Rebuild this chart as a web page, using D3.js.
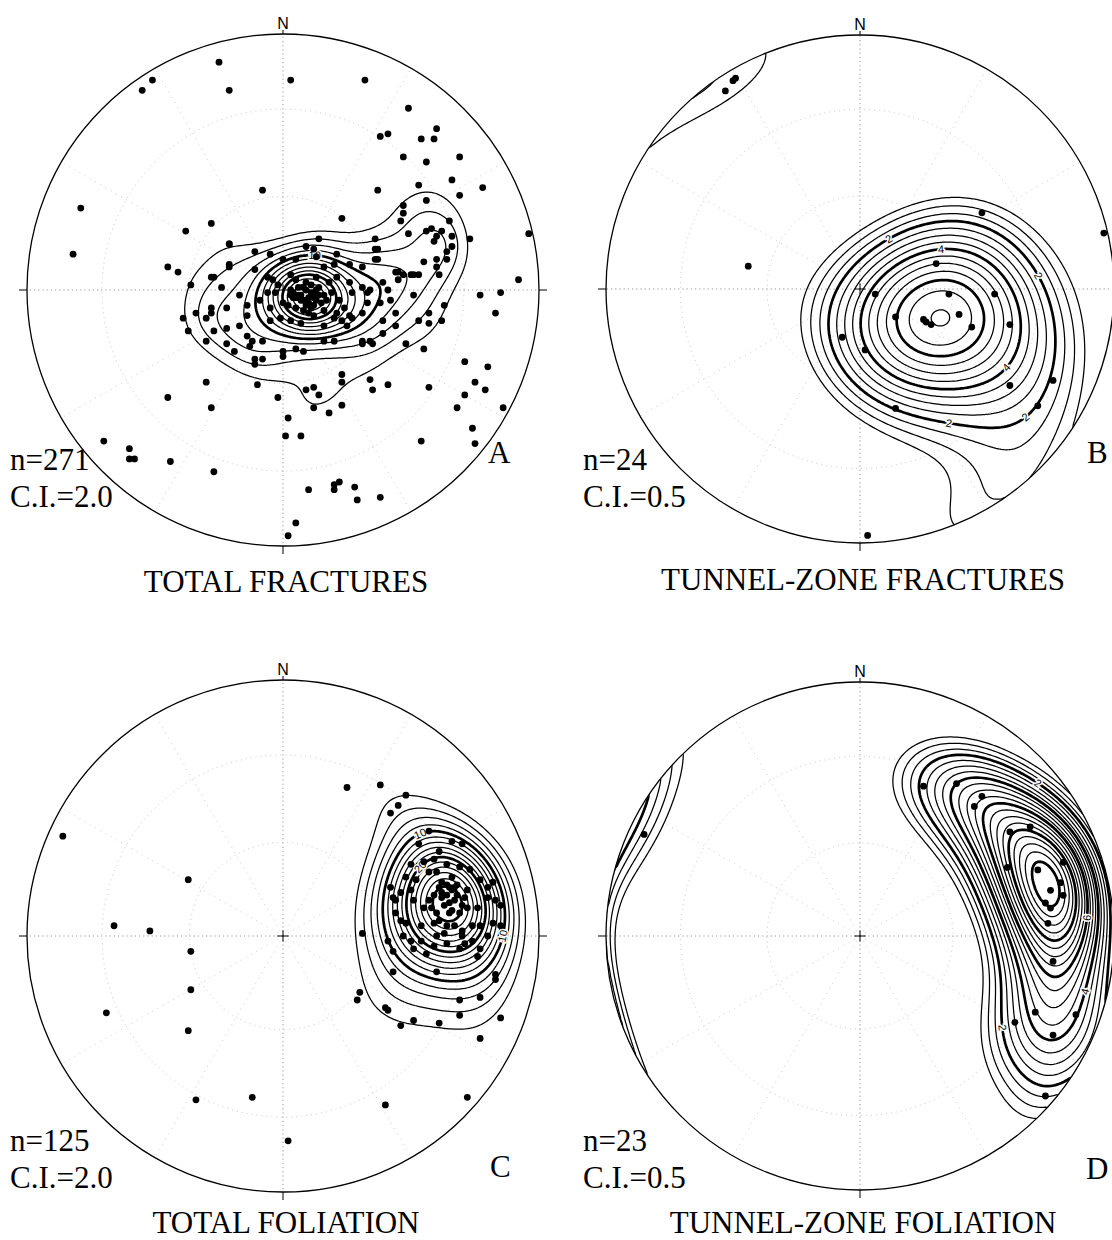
<!DOCTYPE html>
<html>
<head>
<meta charset="utf-8">
<script src="https://cdn.jsdelivr.net/npm/d3@7"></script>
<style>
  body { margin: 0; background: #fff; }
  svg { display: block; }
  .lbl { font-family: "Liberation Serif", "Times New Roman", serif; fill: #000; }
  .north { font-family: "Liberation Sans", Arial, sans-serif; fill: #000; }
  .clab { font-family: "Liberation Sans", Arial, sans-serif; fill: #000; stroke: #fff; stroke-width: 3px; paint-order: stroke; }
</style>
</head>
<body>
<svg id="chart" width="1112" height="1240"></svg>
<script>
// Poles plotted on an equal-area (Schmidt) net, lower hemisphere.
// Each pole is [east, north] in percent of the net radius.

const totalFractures = [
  [-25,89],[-51,82],[-55,78],[-21,78],[3,82],[32,82],[49,71],[60,63],[38,60],[41,61],[54,59],[59,59],
  [47,52],[56,50],[69,52],[37,39],[53,41],[66,43],[78,40],[69,37],[56,35],[47,33],[47,30],[46,27],
  [65,27],[49,22],[56,23],[58,24],[62,23],[60,21],[66,21],[66,17],[64,15],[64,12],[60,12],[60,9],
  [61,6],[73,20],[96,22],[92,4],[55,11],[36,20],[37,16],[37,12],[50,6],[53,6],[45,7],[23,28],
  [-8,39],[-28,26],[-38,23],[-79,32],[-82,14],[-45,9],[-41,7],[-21,18],[-27,5],[-21,10],[-36,2],
  [59,19],[51,-2],[63,-6],[57,-13],[62,-12],[53,-12],[55,-23],[48,-21],[71,-28],[57,-38],[71,-41],
  [68,-46],[41,-37],[34,-35],[35,-39],[23,-33],[23,-36],[12,-38],[9,-39],[14,-41],[12,-46],[23,-45],
  [18,-48],[-2,-42],[-10,-37],[-30,-36],[-45,-42],[-28,-46],[2,-50],[77,-2],[85,-1],[83,-9],[80,-30],
  [75,-36],[79,-39],[74,-54],[75,-60],[86,-46],[54,-59],[1,-57],[7,-57],[-70,-59],[-60,-62],[-60,-66],
  [-58,-66],[-44,-67],[-27,-71],[10,-78],[20,-76],[22,-75],[20,-78],[28,-77],[29,-82],[38,-81],[5,-91],
  [2,-96],[57,-9],
  [14,20],[9,17],[12,16],[13,13],[-11,15],[-5,14],[-21,18],[0,12],[5,12],[21,14],[26,10],[36,16],
  [36,12],[31,9],[20,10],[16,9],[-21,9],[-28,5],[-24,1],[-11,8],[-6,5],[-4,4],[-2,2],[3,6],[5,4],
  [9,3],[13,5],[18,3],[21,5],[26,3],[31,1],[34,0],[39,3],[44,7],[47,6],[51,6],[45,4],[-17,-2],
  [-14,-6],[-9,-4],[-6,-1],[-3,-1],[4,-1],[7,-2],[8,-4],[10,-3],[12,-1],[16,-2],[19,-1],[22,-4],
  [24,-7],[27,-1],[33,-1],[38,-5],[41,0],[33,-5],[-39,-11],[-34,-9],[-28,-7],[-28,-9],[-30,-11],
  [-22,-7],[-14,-10],[-5,-7],[0,-5],[5,-7],[11,-7],[16,-8],[21,-9],[26,-10],[31,-9],[39,-12],[42,-4],
  [44,-9],[-37,-16],[-30,-20],[-27,-16],[-22,-15],[-17,-14],[-14,-18],[-12,-20],[-8,-20],[-5,-12],
  [-1,-11],[3,-12],[7,-13],[12,-10],[16,-14],[20,-11],[23,-12],[25,-14],[27,-11],[31,-20],[34,-20],
  [39,-17],[44,-14],[-22,-21],[-19,-24],[-13,-22],[-8,-27],[0,-24],[0,-26],[5,-23],[8,-24],[16,-20],
  [20,-20],[31,-21],[35,-21],[-11,-27],[-11,-29],[5,-3],[13,-4],[3,0],[14,1],
  [6,-2],[9,0],[11,-1],[8,1],[12,-3],[10,-5],[7,-4],[14,-2],[4,-3],[9,-6],[13,0],[6,1],[15,-5],
  [3,-2],[11,2],[8,-8],[17,-4],[2,-6],[10,-9],[12,-6]
];

const tunnelFractures = [
  [96,22],[-44,9],[48,30],[30,10],[6,-2],[35,-2],[53,-2],[14,-11],[25,-12],[28,-14],[39,-10],
  [44,-15],[59,-14],[-7,-19],[2,-24],[59,-38],[76,-36],[70,-46],[14,-47],[3,-97],[-50,82],[-49,83],
  [-53,78],[26,-13]
];

const totalFoliation = [
  [-86,39],[-37,22],[-66,4],[-52,2],[-36,-6],[-36,-21],[-69,-30],[-37,-37],[-34,-64],[-12,-63],
  [2,-80],[40,-66],[72,-63],[25,58],[38,59],[31,1],[30,-22],[29,-25],[43,-14],[60,-14],[83,-15],
  [83,-17],[40,-28],[41,-29],[46,-35],[51,-33],[61,-34],[69,-25],[77,-24],[69,-31],[85,-32],[77,-40],
  [48,55],[45,51],[42,48],
  [57,41],[53,36],[66,37],[70,36],[61,33],[55,29],[50,28],[59,30],[64,28],[69,27],[73,26],[77,22],
  [82,21],[80,19],[48,23],[52,22],[57,25],[60,25],[62,21],[66,23],[67,19],[71,15],[65,19],[62,15],
  [42,19],[43,15],[44,14],[46,17],[50,18],[51,14],[55,11],[58,11],[60,9],[65,9],[69,9],[72,11],
  [76,11],[80,15],[83,14],[85,12],[44,9],[46,6],[48,5],[54,4],[59,5],[61,6],[64,4],[67,4],[70,2],
  [74,4],[77,4],[82,5],[85,4],[47,0],[50,-2],[54,-2],[60,0],[63,1],[64,-3],[70,0],[71,-3],[74,-2],
  [77,-5],[80,0],[76,-8],[69,-5],[59,-4],[56,-7],[51,-5],[41,-2],[43,-6],
  [64,16],[67,14],[66,18],[63,12],[68,20],[62,17],[70,12],[65,13],[59,16],[66,10],[61,19],[68,16],
  [64,20],[72,18],[57,14]
];

const tunnelFoliation = [
  [25,59],[38,60],[48,55],[45,51],[59,41],[67,43],[58,27],[70,26],[79,21],[75,18],[80,16],[73,13],
  [75,11],[74,5],[76,-10],[69,-30],[85,-31],[61,-34],[76,-39],[80,29],[-85,40],[73,-63]
];

// Contour labels: [contour value, east, north] near where each label sits
const labelsTotalFractures  = [[10, 12, 14]];
const labelsTunnelFractures = [[2, 12, 19], [2, 69, 4], [2, 33, -62], [2, 72, -59], [4, 32, 13], [4, 58, -32]];
const labelsTotalFoliation  = [[10, 53, 42], [10, 85, 0], [20, 54, 27]];
const labelsTunnelFoliation = [[2, 68, 58], [6, 87, 7], [4, 85, -21], [2, 66, -35]];

const panelKeys   = ["A", "B", "C", "D"];
const panelTitles = ["TOTAL FRACTURES", "TUNNEL-ZONE FRACTURES", "TOTAL FOLIATION", "TUNNEL-ZONE FOLIATION"];
const sampleSizes = [271, 24, 125, 23];
const contourIntervals = [2.0, 0.5, 2.0, 0.5];
const kambSigma = [3, 3, 3, 1.8];
const poleSets = [totalFractures, tunnelFractures, totalFoliation, tunnelFoliation];
const labelSets = [labelsTotalFractures, labelsTunnelFractures, labelsTotalFoliation, labelsTunnelFoliation];

// Layout of the four nets on the page
const frames = [
  { cx: 283, cy: 290, r: 256, textX: 10,  nY: 470,  ciY: 507,  letterX: 488,  letterY: 463,  titleY: 592 },
  { cx: 860, cy: 289, r: 254, textX: 583, nY: 470,  ciY: 507,  letterX: 1087, letterY: 463,  titleY: 590 },
  { cx: 283, cy: 936, r: 256, textX: 10,  nY: 1151, ciY: 1188, letterX: 490,  letterY: 1177, titleY: 1233 },
  { cx: 860, cy: 936, r: 254, textX: 583, nY: 1151, ciY: 1188, letterX: 1086, letterY: 1179, titleY: 1233 }
];

const svg = d3.select("#chart");

// Lambert azimuthal equal-area inverse: net coords (unit radius) -> lower-hemisphere unit vector
function toVector(u, v) {
  const X = u * Math.SQRT2, Y = v * Math.SQRT2;
  const R2 = X * X + Y * Y;
  const s = Math.sqrt(Math.max(0, 1 - R2 / 4));
  return [X * s, Y * s, -(1 - R2 / 2)];
}

// Kamb exponential smoothing; density in standard deviations above the uniform expectation
const GRID = 201, EXT = 1.03;
function kambDensity(poles, sigma) {
  const vecs = poles.map(([e, n]) => toVector(e / 100, n / 100));
  const N = vecs.length;
  const f = 2 * (1 + N / (sigma * sigma));
  const units = Math.sqrt(N * (f / 2 - 1) / (f * f));
  const expected = N * (1 - Math.exp(-f)) / f;
  const step = 2 * EXT / (GRID - 1);
  const values = new Float64Array(GRID * GRID);
  for (let j = 0; j < GRID; j++) {
    for (let i = 0; i < GRID; i++) {
      let u = -EXT + i * step, v = EXT - j * step;
      const rr = Math.hypot(u, v);
      if (rr > 1) { u /= rr; v /= rr; }
      const p = toVector(u, v);
      let s = 0;
      for (const q of vecs) {
        const c = Math.abs(p[0] * q[0] + p[1] * q[1] + p[2] * q[2]);
        s += Math.exp(f * (c - 1));
      }
      values[j * GRID + i] = Math.max(0, (s - expected) / units);
    }
  }
  return values;
}

panelKeys.forEach((key, k) => {
  const fr = frames[k];
  const ci = contourIntervals[k];
  const poles = poleSets[k];
  const x = d3.scaleLinear().domain([-100, 100]).range([fr.cx - fr.r, fr.cx + fr.r]);
  const y = d3.scaleLinear().domain([-100, 100]).range([fr.cy + fr.r, fr.cy - fr.r]);
  const g = svg.append("g").attr("class", "net-" + key);

  const clipId = "clip-" + key;
  g.append("clipPath").attr("id", clipId)
    .append("circle").attr("cx", x(0)).attr("cy", y(0)).attr("r", x(100) - x(0));

  // Polar grid: small circles at plunge 30 and 60 degrees, radii every 30 degrees
  const gridG = g.append("g").attr("clip-path", `url(#${clipId})`);
  [30, 60].forEach(pl => {
    const rn = Math.SQRT2 * Math.sin((90 - pl) / 2 * Math.PI / 180) * 100;
    gridG.append("circle").attr("cx", x(0)).attr("cy", y(0)).attr("r", x(rn) - x(0))
      .attr("fill", "none").attr("stroke", "#b5b5b5").attr("stroke-width", 0.8)
      .attr("stroke-dasharray", "1,4");
  });
  d3.range(0, 360, 30).forEach(az => {
    const a = az * Math.PI / 180;
    const main = az % 90 === 0;
    gridG.append("line")
      .attr("x1", x(0)).attr("y1", y(0))
      .attr("x2", x(100 * Math.sin(a))).attr("y2", y(100 * Math.cos(a)))
      .attr("stroke", main ? "#8a8a8a" : "#bdbdbd").attr("stroke-width", main ? 0.9 : 0.8)
      .attr("stroke-dasharray", main ? "1.2,3" : "1,5");
  });

  // Density contours
  const values = kambDensity(poles, kambSigma[k]);
  const maxVal = d3.max(values);
  const levels = d3.range(ci, maxVal, ci);
  const step = 2 * EXT / (GRID - 1);
  const gridToNet = (px, py) => [(-EXT + (px - 0.5) * step) * 100, (EXT - (py - 0.5) * step) * 100];
  const toPage = d3.geoTransform({
    point(px, py) {
      const [u, v] = gridToNet(px, py);
      this.stream.point(x(u), y(v));
    }
  });
  const path = d3.geoPath(toPage);
  const contours = d3.contours().size([GRID, GRID]).thresholds(levels)(values);
  const heavyEvery = ci < 1 ? 4 : 5;
  const cg = g.append("g").attr("clip-path", `url(#${clipId})`);
  cg.selectAll("path").data(contours).join("path")
    .attr("d", path)
    .attr("fill", "none")
    .attr("stroke", "#000")
    .attr("stroke-linejoin", "round")
    .attr("stroke-width", d => (Math.round(d.value / ci) % heavyEvery === 0) ? 2.7 : 1.25);

  // Contour value labels, placed on the nearest vertex of the matching contour
  labelSets[k].forEach(([val, le, ln]) => {
    const c = contours.find(cc => Math.abs(cc.value - val) < 1e-6);
    if (!c) return;
    let best = null, bestD = Infinity;
    c.coordinates.forEach(poly => poly.forEach(ring => {
      ring.forEach((pt, idx) => {
        const [u, v] = gridToNet(pt[0], pt[1]);
        const dd = (u - le) ** 2 + (v - ln) ** 2;
        if (dd < bestD) {
          bestD = dd;
          const prev = ring[Math.max(0, idx - 2)], next = ring[Math.min(ring.length - 1, idx + 2)];
          const [pu, pv] = gridToNet(prev[0], prev[1]);
          const [nu, nv] = gridToNet(next[0], next[1]);
          best = { u, v, ang: Math.atan2(y(nv) - y(pv), x(nu) - x(pu)) * 180 / Math.PI };
        }
      });
    }));
    if (!best) return;
    let ang = best.ang;
    if (ang > 90) ang -= 180;
    if (ang < -90) ang += 180;
    cg.append("text").attr("class", "clab")
      .attr("transform", `translate(${x(best.u)},${y(best.v)}) rotate(${ang})`)
      .attr("text-anchor", "middle").attr("dy", "0.35em")
      .attr("font-size", 11).text(val);
  });

  // Primitive circle, ticks and centre cross
  g.append("circle").attr("cx", x(0)).attr("cy", y(0)).attr("r", x(100) - x(0))
    .attr("fill", "none").attr("stroke", "#000").attr("stroke-width", 1.3);
  const tick = 8;
  g.append("line").attr("x1", x(-100) - tick).attr("x2", x(-100)).attr("y1", y(0)).attr("y2", y(0)).attr("stroke", "#000");
  g.append("line").attr("x1", x(100)).attr("x2", x(100) + tick).attr("y1", y(0)).attr("y2", y(0)).attr("stroke", "#000");
  g.append("line").attr("x1", x(0)).attr("x2", x(0)).attr("y1", y(-100)).attr("y2", y(-100) + tick).attr("stroke", "#000");
  g.append("line").attr("x1", x(0)).attr("x2", x(0)).attr("y1", y(100) - 4).attr("y2", y(100)).attr("stroke", "#000");
  g.append("line").attr("x1", x(-2.2)).attr("x2", x(2.2)).attr("y1", y(0)).attr("y2", y(0)).attr("stroke", "#000");
  g.append("line").attr("x1", x(0)).attr("x2", x(0)).attr("y1", y(-2.2)).attr("y2", y(2.2)).attr("stroke", "#000");

  g.append("text").attr("class", "north").attr("x", x(0)).attr("y", y(100) - 5)
    .attr("text-anchor", "middle").attr("font-size", 16).text("N");

  // Poles
  g.append("g").selectAll("circle").data(poles).join("circle")
    .attr("cx", d => x(d[0])).attr("cy", d => y(d[1])).attr("r", 3.4).attr("fill", "#000");

  // Annotations
  g.append("text").attr("class", "lbl").attr("x", fr.textX).attr("y", fr.nY)
    .attr("font-size", 31).text("n=" + sampleSizes[k]);
  g.append("text").attr("class", "lbl").attr("x", fr.textX).attr("y", fr.ciY)
    .attr("font-size", 31).text("C.I.=" + ci.toFixed(1));
  g.append("text").attr("class", "lbl").attr("x", fr.letterX).attr("y", fr.letterY)
    .attr("font-size", 31).text(key);
  g.append("text").attr("class", "lbl").attr("x", fr.cx + 3).attr("y", fr.titleY)
    .attr("text-anchor", "middle").attr("font-size", 31).text(panelTitles[k]);
});
</script>
</body>
</html>
